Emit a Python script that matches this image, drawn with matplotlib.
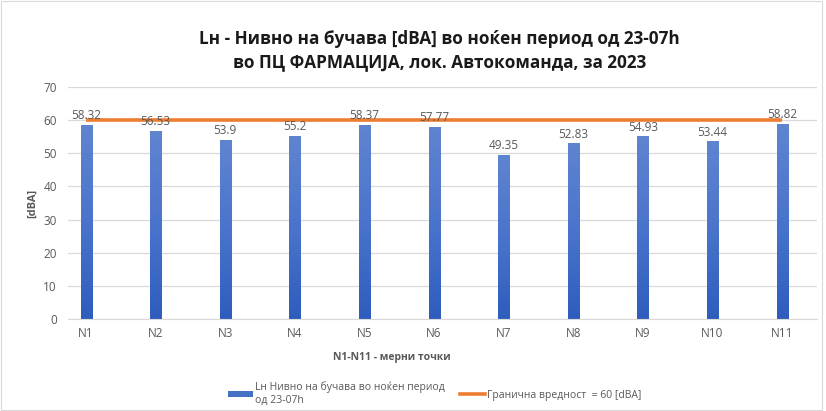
"""Night-time noise level per measuring point, with the 60 dBA limit."""

import matplotlib.pyplot as plt
from matplotlib.colors import LinearSegmentedColormap
from matplotlib.lines import Line2D
from matplotlib.patches import Patch, Rectangle
import numpy as np

plt.rcParams["font.family"] = ["Open Sans", "DejaVu Sans"]

points = ["N1", "N2", "N3", "N4", "N5", "N6", "N7", "N8", "N9", "N10", "N11"]
levels = [58.32, 56.53, 53.9, 55.2, 58.37, 57.77, 49.35, 52.83, 54.93, 53.44, 58.82]
limit_value = 60

series_label = "Lн Нивно на бучава во ноќен период\nод 23-07h"
limit_label = "Гранична вредност  = 60 [dBA]"

TEXT = "#595959"
GRID = "#D9D9D9"
ORANGE = "#ED7D31"

fig = plt.figure(figsize=(8.26, 4.11), dpi=100)
fig.patches.append(Rectangle((0.001, 0.002), 0.994, 0.996, transform=fig.transFigure,
                             fill=False, edgecolor="#D9D9D9", linewidth=0.8))
ax = fig.add_axes([0.0823, 0.2238, 0.9067, 0.5645])

x = np.arange(len(points))
width = 0.16
bar_cmap = LinearSegmentedColormap.from_list("bar", ["#2E5DBD", "#4A74CC", "#5F84D0"])
gradient = np.linspace(0, 1, 256).reshape(-1, 1)

# each bar is a vertical gradient image clipped to its extent
for xi, val in zip(x, levels):
    ax.imshow(gradient, extent=[xi - width / 2, xi + width / 2, 0, val],
              origin="lower", cmap=bar_cmap, aspect="auto", zorder=2)
    ax.text(xi, val + 1.0, f"{val:g}", ha="center", va="bottom",
            fontsize=8.5, color=TEXT, zorder=4)

ax.plot(x, [limit_value] * len(x), color=ORANGE, linewidth=2.6, zorder=3,
        solid_capstyle="butt")

ax.set_xlim(-0.26, 10.5)
ax.set_ylim(0, 70)
ax.set_yticks(np.arange(0, 71, 10))
ax.set_xticks(x)
ax.set_xticklabels(points)
ax.grid(axis="y", color=GRID, linewidth=0.9, zorder=0)
ax.set_axisbelow(True)
for side in ["top", "right", "left"]:
    ax.spines[side].set_visible(False)
ax.spines["bottom"].set_color(GRID)
ax.tick_params(axis="both", length=0, labelsize=8.5, labelcolor=TEXT)
ax.tick_params(axis="y", pad=8)
ax.tick_params(axis="x", pad=6)

ax.set_ylabel("[dBA]", fontsize=8, color=TEXT, fontweight="bold", labelpad=4)

# axis title sits left of the plot centre
fig.text(0.474, 0.131, "N1-N11 - мерни точки", ha="center", va="center",
         fontsize=7.5, color=TEXT, fontweight="bold")

fig.text(0.532, 0.877,
         "Lн - Нивно на бучава [dBA] во ноќен период од 23-07h\n"
         "во ПЦ ФАРМАЦИЈА, лок. Автокоманда, за 2023",
         ha="center", va="center", fontsize=12.3, fontweight="bold",
         color="#1a1a1a", linespacing=1.35)

handles = [Patch(facecolor="#4472C4", edgecolor="none"),
           Line2D([0], [0], color=ORANGE, linewidth=2.6)]
fig.legend(handles, [series_label, limit_label], loc="center",
           bbox_to_anchor=(0.526, 0.042), ncol=2, frameon=False,
           fontsize=7.5, labelcolor=TEXT, handlelength=2.4,
           handleheight=0.5, columnspacing=1.4, handletextpad=0.2,
           labelspacing=0.6)

fig.savefig("out.png", dpi=100)
